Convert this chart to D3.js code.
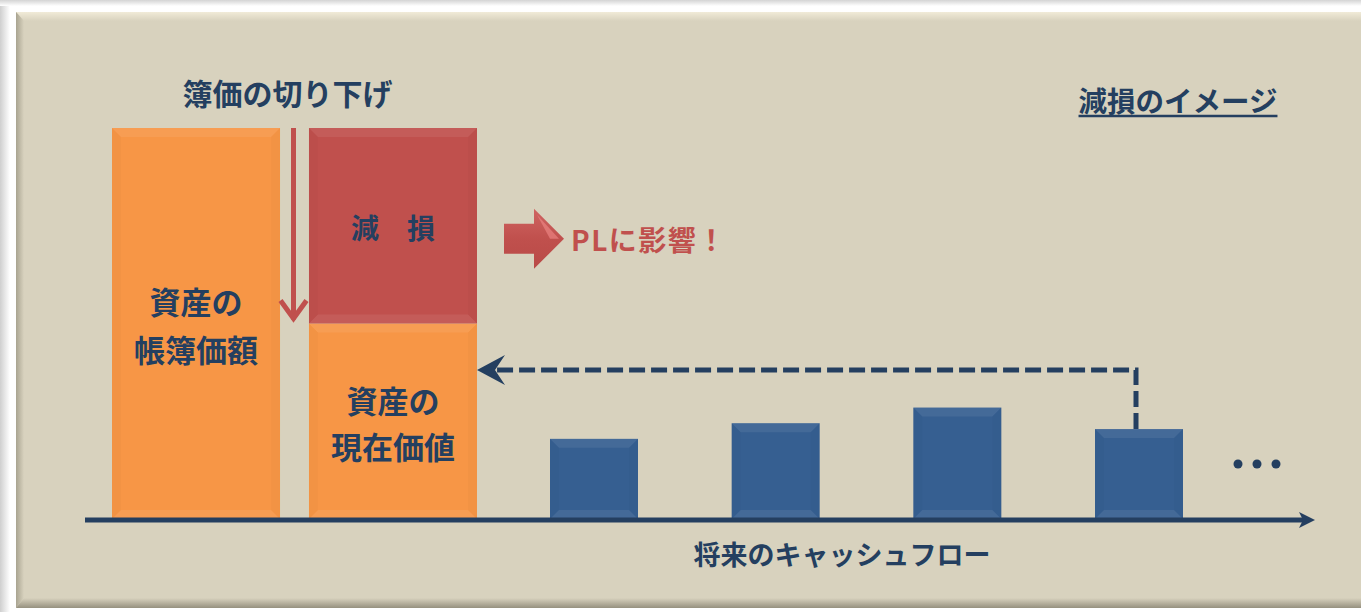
<!DOCTYPE html>
<html lang="ja">
<head>
<meta charset="utf-8">
<script src="https://cdn.jsdelivr.net/npm/d3@7"></script>
<style>
  html, body { margin: 0; padding: 0; background: #ffffff; }
  svg { display: block; }
  text { font-family: "Noto Sans CJK JP", "Noto Sans", sans-serif; font-weight: 700; }
</style>
</head>
<body>
<svg id="chart" width="1361" height="612"></svg>
<script>
// ---- data ----
const assetCategories = ["帳簿価額", "現在価値"];
const bookValue = 100;          // 資産の帳簿価額
const presentValue = 50;        // 資産の現在価値
const impairment = bookValue - presentValue; // 減損
const cashflowPeriods = [1, 2, 3, 4];
const cashflowValues = [20.5, 24.5, 28.5, 23];
const bookLabel = ["資産の", "帳簿価額"];
const presentLabel = ["資産の", "現在価値"];
const impairmentLabel = "減　損";
const plLabel = "PLに影響！";
const writeDownLabel = "簿価の切り下げ";
const titleLabel = "減損のイメージ";
const axisLabel = "将来のキャッシュフロー";

// ---- palette ----
const NAVY = "#243F60";
const ORANGE = "#F79646";
const RED = "#C0504D";
const BLUE = "#365F91";
const PANEL = "#D8D2BE";

const svg = d3.select("#chart");
const defs = svg.append("defs");

// soft outer shadow around the panel
const shL = defs.append("linearGradient").attr("id", "shL").attr("x1", 0).attr("x2", 1);
shL.append("stop").attr("offset", 0).attr("stop-color", "#cfcfcf");
shL.append("stop").attr("offset", 1).attr("stop-color", "#ffffff");
const shT = defs.append("linearGradient").attr("id", "shT").attr("x1", 0).attr("x2", 0).attr("y1", 0).attr("y2", 1);
shT.append("stop").attr("offset", 0).attr("stop-color", "#d4d4d4");
shT.append("stop").attr("offset", 1).attr("stop-color", "#ffffff");
svg.append("rect").attr("x", 0).attr("y", 0).attr("width", 10).attr("height", 612).attr("fill", "url(#shL)");
svg.append("rect").attr("x", 0).attr("y", 0).attr("width", 1361).attr("height", 6).attr("fill", "url(#shT)");

// panel with bevelled edges
const panel = { x: 16, y: 12, w: 1360, h: 596 };
svg.append("rect").attr("x", panel.x).attr("y", panel.y).attr("width", panel.w).attr("height", panel.h).attr("fill", PANEL);

const bvL = defs.append("linearGradient").attr("id", "bvL").attr("x1", 0).attr("x2", 1);
bvL.append("stop").attr("offset", 0).attr("stop-color", "#a9a491");
bvL.append("stop").attr("offset", 1).attr("stop-color", PANEL);
const bvT = defs.append("linearGradient").attr("id", "bvT").attr("x1", 0).attr("x2", 0).attr("y1", 0).attr("y2", 1);
bvT.append("stop").attr("offset", 0).attr("stop-color", "#f1ebd8");
bvT.append("stop").attr("offset", 1).attr("stop-color", PANEL);
const bvB = defs.append("linearGradient").attr("id", "bvB").attr("x1", 0).attr("x2", 0).attr("y1", 0).attr("y2", 1);
bvB.append("stop").attr("offset", 0).attr("stop-color", PANEL);
bvB.append("stop").attr("offset", 1).attr("stop-color", "#96917f");

svg.append("path").attr("fill", "url(#bvT)")
  .attr("d", `M${panel.x},${panel.y}H${panel.x + panel.w}V${panel.y + 9}H${panel.x + 8}Z`);
svg.append("path").attr("fill", "url(#bvL)")
  .attr("d", `M${panel.x},${panel.y}L${panel.x + 8},${panel.y + 9}V${panel.y + panel.h - 10}L${panel.x},${panel.y + panel.h}Z`);
svg.append("path").attr("fill", "url(#bvB)")
  .attr("d", `M${panel.x},${panel.y + panel.h}L${panel.x + 8},${panel.y + panel.h - 10}H${panel.x + panel.w}V${panel.y + panel.h}Z`);

// ---- scales ----
const y = d3.scaleLinear().domain([0, bookValue]).range([519, 128]);
const xAsset = d3.scaleBand().domain(assetCategories).range([112, 477]).paddingInner(0.147).paddingOuter(0);
const xCF = d3.scalePoint().domain(cashflowPeriods).range([594, 1139]);
const cfWidth = 88;

// bevelled bar: base rect plus light top/bottom facets
function bevelBar(g, x, y0, w, h, fill) {
  const b = Math.min(9, w / 4, h / 4);
  g.append("rect").attr("x", x).attr("y", y0).attr("width", w).attr("height", h).attr("fill", fill);
  g.append("path").attr("fill", "#ffffff").attr("opacity", 0.07)
    .attr("d", `M${x},${y0}H${x + w}L${x + w - b},${y0 + b}H${x + b}Z`);
  g.append("path").attr("fill", "#ffffff").attr("opacity", 0.07)
    .attr("d", `M${x},${y0 + h}H${x + w}L${x + w - b},${y0 + h - b}H${x + b}Z`);
  g.append("path").attr("fill", "#000000").attr("opacity", 0.02)
    .attr("d", `M${x},${y0}L${x + b},${y0 + b}V${y0 + h - b}L${x},${y0 + h}Z`);
  g.append("path").attr("fill", "#000000").attr("opacity", 0.02)
    .attr("d", `M${x + w},${y0}L${x + w - b},${y0 + b}V${y0 + h - b}L${x + w},${y0 + h}Z`);
}

const bars = svg.append("g");

// book value bar
bevelBar(bars, xAsset("帳簿価額"), y(bookValue), xAsset.bandwidth(), y(0) - y(bookValue), ORANGE);
// present value + impairment stack
bevelBar(bars, xAsset("現在価値"), y(presentValue), xAsset.bandwidth(), y(0) - y(presentValue), ORANGE);
bevelBar(bars, xAsset("現在価値"), y(presentValue + impairment), xAsset.bandwidth(), y(presentValue) - y(presentValue + impairment), RED);

// future cash flow bars
cashflowPeriods.forEach((p, i) => {
  bevelBar(bars, xCF(p) - cfWidth / 2, y(cashflowValues[i]), cfWidth, y(0) - y(cashflowValues[i]), BLUE);
});

// ---- time axis ----
const axisY = y(0) + 1;
const axisEnd = 1315;
svg.append("line").attr("x1", 85).attr("x2", axisEnd - 10).attr("y1", axisY).attr("y2", axisY)
  .attr("stroke", NAVY).attr("stroke-width", 5);
svg.append("path").attr("fill", NAVY)
  .attr("d", `M${axisEnd},${axisY}L${axisEnd - 16},${axisY - 8}L${axisEnd - 12},${axisY}L${axisEnd - 16},${axisY + 8}Z`);

// ellipsis after the last period
const lastX = xCF(cashflowPeriods[cashflowPeriods.length - 1]);
svg.append("g").selectAll("circle").data([0, 1, 2]).join("circle")
  .attr("cx", d => lastX + 99 + d * 19).attr("cy", 464).attr("r", 4.5).attr("fill", NAVY);

// ---- discounting arrow (dashed) from the last cash flow back to present value ----
const dashY = 370;
const pvRight = xAsset("現在価値") + xAsset.bandwidth();
svg.append("path")
  .attr("d", `M${lastX - 3},${y(cashflowValues[3])}V${dashY}H${pvRight + 20}`)
  .attr("fill", "none").attr("stroke", NAVY).attr("stroke-width", 5)
  .attr("stroke-dasharray", "16 6");
svg.append("path").attr("fill", NAVY)
  .attr("d", `M${pvRight},${dashY}L${pvRight + 28},${dashY - 15}L${pvRight + 18},${dashY}L${pvRight + 28},${dashY + 15}Z`);

// ---- write-down arrow between the two asset bars ----
const gapX = (xAsset("帳簿価額") + xAsset.bandwidth() + xAsset("現在価値")) / 2 - 1;
const downEnd = y(presentValue) - 2;
svg.append("line").attr("x1", gapX).attr("x2", gapX).attr("y1", y(bookValue)).attr("y2", downEnd - 2)
  .attr("stroke", RED).attr("stroke-width", 5);
svg.append("path").attr("fill", "none").attr("stroke", RED).attr("stroke-width", 5)
  .attr("stroke-linejoin", "miter")
  .attr("d", `M${gapX - 13},${downEnd - 21}L${gapX},${downEnd - 3}L${gapX + 13},${downEnd - 21}`);

// ---- block arrow to PL ----
const redMid = (y(bookValue) + y(presentValue)) / 2;
const pa = { x0: 504, y: redMid + 13 };
const ag = defs.append("linearGradient").attr("id", "arrowHi").attr("x1", 0).attr("x2", 0).attr("y1", 0).attr("y2", 1);
ag.append("stop").attr("offset", 0).attr("stop-color", "#cf6462");
ag.append("stop").attr("offset", 0.5).attr("stop-color", RED);
ag.append("stop").attr("offset", 1).attr("stop-color", "#b94a47");
svg.append("path").attr("fill", "url(#arrowHi)")
  .attr("d", `M${pa.x0},${pa.y - 15}H${pa.x0 + 30}V${pa.y - 30}L${pa.x0 + 60},${pa.y}L${pa.x0 + 30},${pa.y + 30}V${pa.y + 15}H${pa.x0}Z`);
svg.append("path").attr("fill", "#f08a88").attr("opacity", 0.6)
  .attr("d", `M${pa.x0 + 33},${pa.y - 24}L${pa.x0 + 55},${pa.y}L${pa.x0 + 46},${pa.y}Z`);

// ---- labels ----
const labels = svg.append("g");

labels.append("text").text(writeDownLabel)
  .attr("x", gapX - 6).attr("y", 92).attr("text-anchor", "middle").attr("dominant-baseline", "central")
  .attr("font-size", 30).attr("fill", NAVY);

const title = labels.append("text").text(titleLabel)
  .attr("x", 1178).attr("y", 99).attr("text-anchor", "middle").attr("dominant-baseline", "central")
  .attr("font-size", 28.5).attr("fill", NAVY);
const tw = title.node().getComputedTextLength();
labels.append("line").attr("x1", 1178 - tw / 2).attr("x2", 1178 + tw / 2).attr("y1", 116).attr("y2", 116)
  .attr("stroke", NAVY).attr("stroke-width", 2.5);

const bookCx = xAsset("帳簿価額") + xAsset.bandwidth() / 2;
const pvCx = xAsset("現在価値") + xAsset.bandwidth() / 2;

bookLabel.forEach((t, i) => {
  labels.append("text").text(t).attr("x", bookCx).attr("y", 300 + i * 48)
    .attr("text-anchor", "middle").attr("dominant-baseline", "central")
    .attr("font-size", 31).attr("fill", NAVY);
});
presentLabel.forEach((t, i) => {
  labels.append("text").text(t).attr("x", pvCx).attr("y", 399 + i * 46)
    .attr("text-anchor", "middle").attr("dominant-baseline", "central")
    .attr("font-size", 31).attr("fill", NAVY);
});

labels.append("text").text(impairmentLabel)
  .attr("x", pvCx).attr("y", redMid + 1).attr("text-anchor", "middle").attr("dominant-baseline", "central")
  .attr("font-size", 28).attr("fill", NAVY);

labels.append("text").text(plLabel)
  .attr("x", 571).attr("y", pa.y).attr("dominant-baseline", "central")
  .attr("font-size", 28).attr("letter-spacing", 1.5).attr("fill", RED);

labels.append("text").text(axisLabel)
  .attr("x", 842).attr("y", 553).attr("text-anchor", "middle").attr("dominant-baseline", "central")
  .attr("font-size", 27).attr("fill", NAVY);
</script>
</body>
</html>
